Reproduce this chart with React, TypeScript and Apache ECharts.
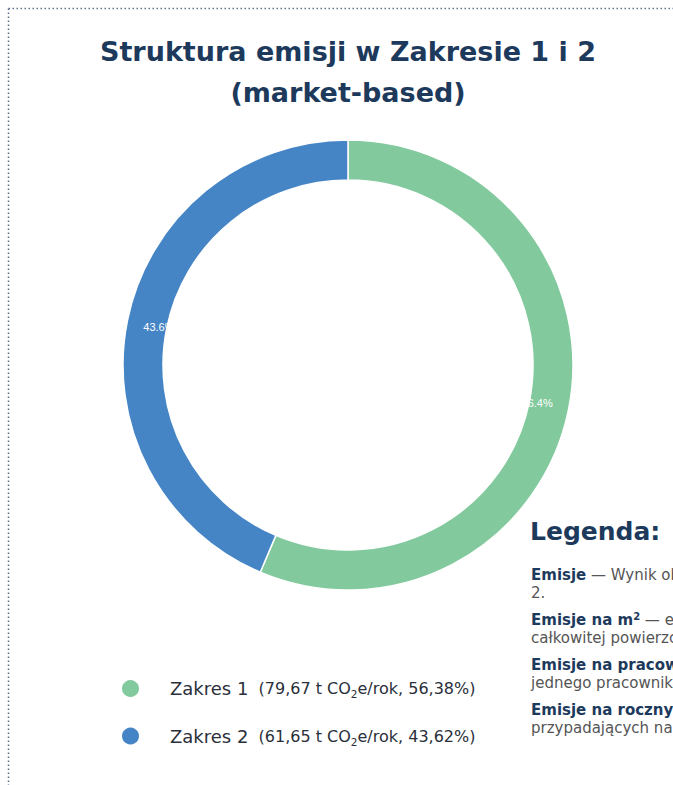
import React, { useEffect, useRef } from "react";
import * as echarts from "echarts";

const categories = ["Zakres 1", "Zakres 2"];
const emissions = [79.67, 61.65];
const colors = ["#82ca9d", "#4585c6"];
const titleLines = ["Struktura emisji w Zakresie 1 i 2", "(market-based)"];
const unitPre = "t CO";
const unitPost = "e/rok";

const legendHeading = "Legenda:";
const legendEntries = [
  { bold: "Emisje", sup: "", rest: " — Wynik obliczeń emisji gazów cieplarnianych w Zakresie 1 i", line2: "2." },
  { bold: "Emisje na m", sup: "2", rest: " — emisje przypadające na 1 m² ", line2: "całkowitej powierzchni budynku." },
  { bold: "Emisje na pracownika", sup: "", rest: " — emisje przypadające na ", line2: "jednego pracownika organizacji." },
  { bold: "Emisje na roczny przychód", sup: "", rest: " — wartość emisji ", line2: "przypadających na 1 mln zł przychodu." },
];

const fmt = (v: number) => v.toFixed(2).replace(".", ",");

export default function App() {
  const ref = useRef<HTMLDivElement>(null);
  useEffect(() => {
    if (!ref.current) return;
    const chart = echarts.init(ref.current, null, { renderer: "svg" });
    const total = emissions.reduce((a, b) => a + b, 0);
    const data = categories.map((c, i) => ({
      name: c,
      value: emissions[i],
      itemStyle: { color: colors[i] },
    }));
    const textFont = "'DejaVu Sans', Verdana, sans-serif";

    const graphics: any[] = [
      {
        type: "text",
        x: 348,
        y: 72,
        style: {
          text: titleLines.join("\n"),
          font: `bold 27px ${textFont}`,
          fill: "#1d3a5c",
          align: "center",
          verticalAlign: "middle",
          lineHeight: 41,
        },
      },
      {
        type: "text",
        x: 530,
        y: 519,
        style: {
          text: legendHeading,
          font: `bold 25px ${textFont}`,
          fill: "#1d3a5c",
        },
      },
    ];
    const entryY = [566, 611, 656, 701];
    legendEntries.forEach((e, i) => {
      const txt =
        `{b|${e.bold}}` + (e.sup ? `{sup|${e.sup}}` : "") + `{r|${e.rest}}\n{r|${e.line2}}`;
      graphics.push({
        type: "text",
        x: 531,
        y: entryY[i],
        style: {
          text: txt,
          fill: "#555",
          rich: {
            b: { font: `bold 15px ${textFont}`, fill: "#1d3a5c", lineHeight: 18 },
            sup: { font: `bold 10px ${textFont}`, fill: "#1d3a5c", lineHeight: 12, verticalAlign: "top" },
            r: { font: `15px ${textFont}`, fill: "#555", lineHeight: 18 },
          },
        },
      });
    });
    // dotted frame
    graphics.push(
      { type: "line", shape: { x1: 8.5, y1: 8.5, x2: 673, y2: 8.5 }, style: { stroke: "#5b6e8c", lineWidth: 1.5, lineDash: [1.5, 2.5] } },
      { type: "line", shape: { x1: 8.5, y1: 8.5, x2: 8.5, y2: 785 }, style: { stroke: "#5b6e8c", lineWidth: 1.5, lineDash: [1.5, 2.5] } }
    );

    chart.setOption({
      animation: false,
      backgroundColor: "#ffffff",
      graphic: graphics,
      legend: {
        orient: "vertical",
        left: 115,
        top: 673,
        icon: "circle",
        itemWidth: 19,
        itemHeight: 19,
        itemGap: 26,
        data: categories,
        formatter: (name: string) => {
          const i = categories.indexOf(name);
          const pct = ((emissions[i] / total) * 100).toFixed(2).replace(".", ",");
          return `{n|${name}}{d|  (${fmt(emissions[i])} ${unitPre}}{s|2}{d|${unitPost}, ${pct}%)}`;
        },
        textStyle: {
          padding: [0, 0, 0, 25],
          rich: {
            n: { fontFamily: textFont, fontSize: 18, color: "#2a2f3a", lineHeight: 22 },
            d: { fontFamily: textFont, fontSize: 16, color: "#2a2f3a", lineHeight: 22 },
            s: { fontFamily: textFont, fontSize: 10.5, color: "#2a2f3a", lineHeight: 12, verticalAlign: "bottom" },
          },
        },
      },
      series: [
        {
          type: "pie",
          center: [348, 365],
          radius: [185, 225],
          startAngle: 90,
          clockwise: true,
          data,
          label: { show: false },
          labelLine: { show: false },
          itemStyle: { borderColor: "#ffffff", borderWidth: 1.5 },
          silent: true,
        },
        {
          type: "pie",
          center: [348, 365],
          radius: [180, 200],
          startAngle: 90,
          clockwise: true,
          data: categories.map((c, i) => ({ name: c, value: emissions[i] })),
          itemStyle: { color: "transparent", borderWidth: 0 },
          label: {
            show: true,
            position: "inside",
            color: "#ffffff",
            fontFamily: "Arial, 'Liberation Sans', sans-serif",
            fontSize: 11,
            formatter: (p: any) => `${p.percent.toFixed(1)}%`,
          },
          labelLine: { show: false },
          silent: true,
          z: 3,
        },
      ],
    });
    return () => chart.dispose();
  }, []);
  return (
    <div
      ref={ref}
      style={{ position: "fixed", left: 0, top: 0, width: 673, height: 785 }}
    />
  );
}
